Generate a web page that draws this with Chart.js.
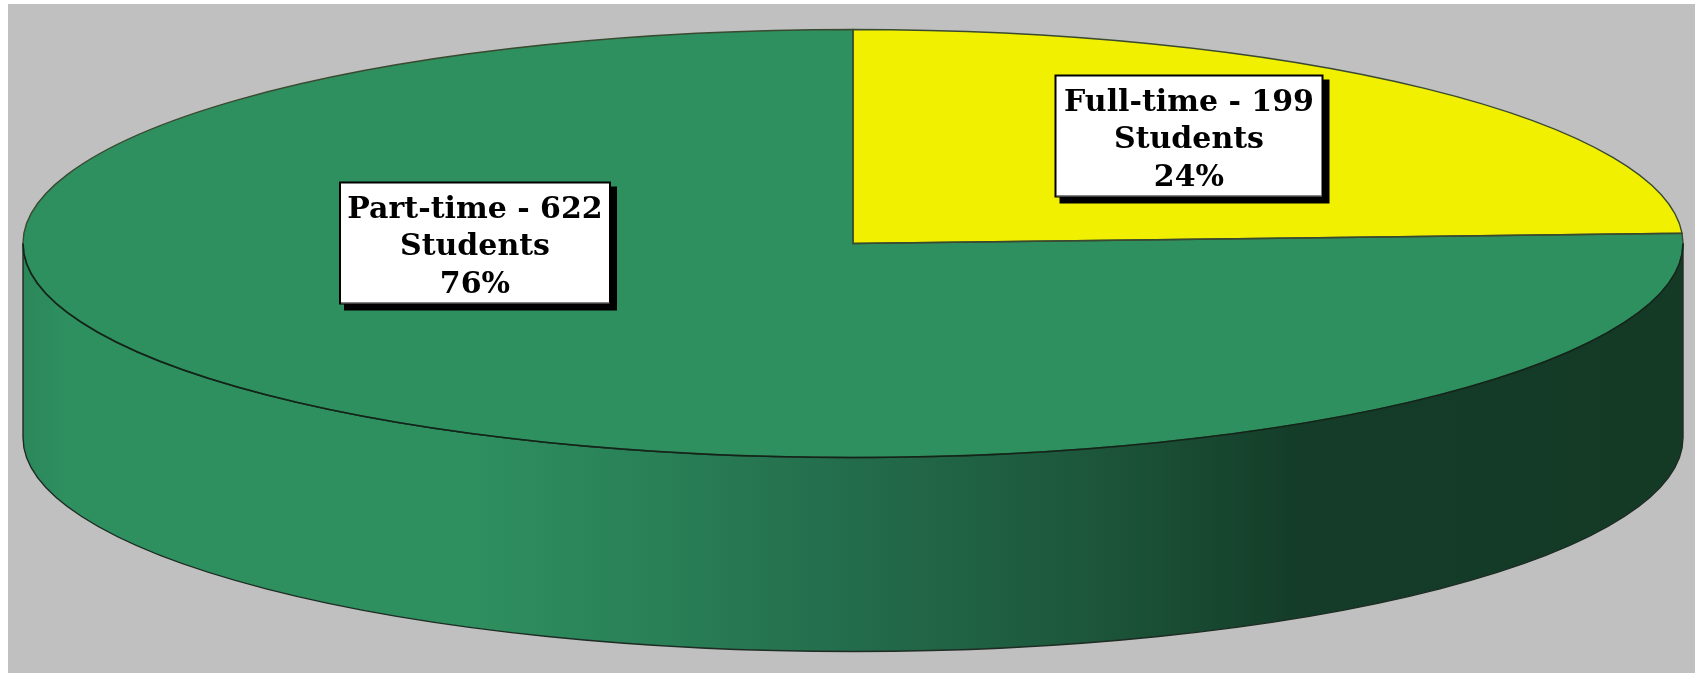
<!DOCTYPE html>
<html>
<head>
<meta charset="utf-8">
<title>Students by enrollment status</title>
<script src="https://cdn.jsdelivr.net/npm/chart.js@4"></script>
<style>
  html, body { margin: 0; padding: 0; background: #fff; overflow: hidden; }
  canvas { display: block; }
</style>
</head>
<body>
<canvas id="pieChart" width="1695" height="673"></canvas>
<script>
// values
const categories = ['Full-time', 'Part-time'];
const students = [199, 622];

const sliceColors = ['#f0f000', '#2e8f5f'];
const labelCenters = [[1189, 136], [475, 243]];
const labelSizes = [[267, 121], [270, 121]];

const faceRadius = 830;     // half width of the top face
const tilt = 214 / 830;     // squash of the circle into an ellipse
const depth = 194;          // height of the side wall

function faceTransform(ctx, arc) {
    ctx.translate(0, arc.y);
    ctx.scale(1, tilt);
    ctx.translate(0, -arc.y);
}

const pie3d = {
    id: 'pie3d',
    beforeDraw(chart) {
        const ctx = chart.ctx;
        ctx.save();
        ctx.fillStyle = '#c0c0c0';
        ctx.fillRect(8, 4, chart.width - 8, chart.height - 4);
        ctx.restore();
    },
    beforeDatasetsDraw(chart) {
        const ctx = chart.ctx;
        const arcs = chart.getDatasetMeta(0).data;
        const left = arcs[0].x - faceRadius;
        const wall = ctx.createLinearGradient(left, 0, left + faceRadius * 2, 0);
        wall.addColorStop(0, '#2b875a');
        wall.addColorStop(0.025, '#2e8f5f');
        wall.addColorStop(0.27, '#2e8f5f');
        wall.addColorStop(0.37, '#2a8258');
        wall.addColorStop(0.5, '#236c4b');
        wall.addColorStop(0.65, '#1c553a');
        wall.addColorStop(0.77, '#143c28');
        wall.addColorStop(1, '#143a26');

        // side wall, only the part of each slice facing the viewer
        arcs.forEach(arc => {
            const a0 = Math.max(arc.startAngle, 0);
            const a1 = Math.min(arc.endAngle, Math.PI);
            if (a1 <= a0) return;
            const r = arc.outerRadius;
            ctx.save();
            ctx.beginPath();
            ctx.ellipse(arc.x, arc.y + depth, r, r * tilt, 0, a0, a1);
            ctx.ellipse(arc.x, arc.y, r, r * tilt, 0, a1, a0, true);
            ctx.closePath();
            ctx.fillStyle = wall;
            ctx.fill();
            ctx.lineWidth = 1.4;
            ctx.strokeStyle = '#1e2c24';
            ctx.stroke();
            ctx.restore();
        });

        // the slices are drawn by the library inside this squashed space
        ctx.save();
        faceTransform(ctx, arcs[0]);
    },
    afterDatasetsDraw(chart) {
        const ctx = chart.ctx;
        ctx.restore();
        const arcs = chart.getDatasetMeta(0).data;

        arcs.forEach(arc => {
            const r = arc.outerRadius;
            ctx.save();
            ctx.beginPath();
            ctx.moveTo(arc.x, arc.y);
            ctx.ellipse(arc.x, arc.y, r, r * tilt, 0, arc.startAngle, arc.endAngle);
            ctx.closePath();
            ctx.lineWidth = 1.4;
            ctx.strokeStyle = '#3a4a30';
            ctx.stroke();
            ctx.restore();
        });

        // front rim of the top face is darker than the back
        const rim = arcs[0];
        ctx.save();
        ctx.beginPath();
        ctx.ellipse(rim.x, rim.y, rim.outerRadius, rim.outerRadius * tilt, 0, 0, Math.PI);
        ctx.lineWidth = 1.6;
        ctx.strokeStyle = '#10261a';
        ctx.stroke();
        ctx.restore();

        const total = students.reduce((a, b) => a + b, 0);
        categories.forEach((cat, i) => {
            const lines = [
                cat + ' - ' + students[i],
                'Students',
                Math.round(students[i] / total * 100) + '%'
            ];
            drawLabel(ctx, lines, labelCenters[i], labelSizes[i]);
        });
    }
};

function drawLabel(ctx, lines, center, size) {
    const x = center[0] - size[0] / 2;
    const y = center[1] - size[1] / 2;
    ctx.save();
    ctx.fillStyle = '#000';
    ctx.fillRect(x + 4, y + 4, size[0] + 3, size[1] + 3);
    ctx.fillStyle = '#fff';
    ctx.fillRect(x, y, size[0], size[1]);
    ctx.strokeStyle = '#000';
    ctx.lineWidth = 2;
    ctx.strokeRect(x, y, size[0], size[1]);
    ctx.strokeStyle = '#888';
    ctx.lineWidth = 1;
    ctx.beginPath();
    ctx.moveTo(x + 1, y + size[1] - 0.5);
    ctx.lineTo(x + size[0] - 0.5, y + size[1] - 0.5);
    ctx.stroke();

    ctx.fillStyle = '#000';
    ctx.font = 'bold 30px "DejaVu Serif", serif';
    ctx.textAlign = 'center';
    ctx.textBaseline = 'alphabetic';
    lines.forEach((line, i) => {
        ctx.fillText(line, center[0], y + 35 + i * 37.7);
    });
    ctx.restore();
}

new Chart(document.getElementById('pieChart'), {
    type: 'pie',
    data: {
        labels: categories,
        datasets: [{
            data: students,
            backgroundColor: sliceColors,
            borderWidth: 0,
            clip: false
        }]
    },
    options: {
        responsive: false,
        animation: false,
        radius: faceRadius,
        layout: { padding: { left: 11, right: 0, top: 0, bottom: 186 } },
        plugins: {
            legend: { display: false },
            tooltip: { enabled: false }
        }
    },
    plugins: [pie3d]
});
</script>
</body>
</html>
